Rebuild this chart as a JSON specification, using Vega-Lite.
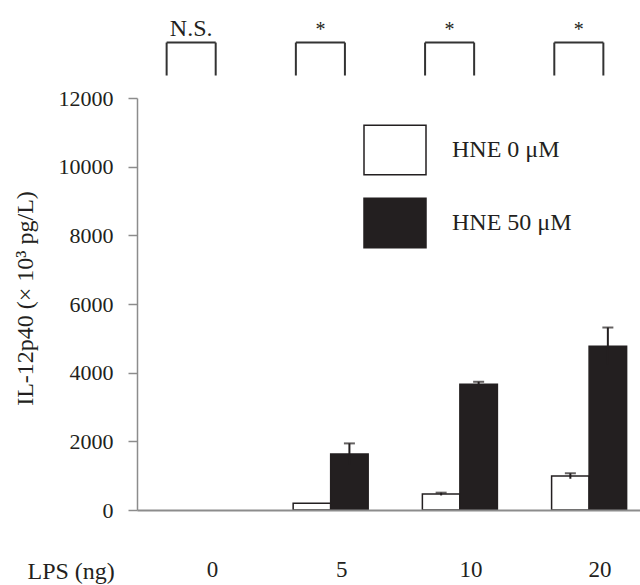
{
  "$schema": "https://vega.github.io/schema/vega-lite/v6.json",
  "width": 503,
  "height": 412,
  "autosize": {"type": "none"},
  "padding": {"left": 137, "top": 98, "right": 0, "bottom": 75},
  "background": "white",
  "config": {"view": {"stroke": null}, "font": "Liberation Serif"},
  "datasets": {
    "bars": [
      {"lps": "0", "group": "HNE 0 μM", "value": 0, "lower": 0, "upper": 0},
      {"lps": "0", "group": "HNE 50 μM", "value": 0, "lower": 0, "upper": 0},
      {"lps": "5", "group": "HNE 0 μM", "value": 200, "lower": 200, "upper": 200},
      {"lps": "5", "group": "HNE 50 μM", "value": 1630, "lower": 1320, "upper": 1940},
      {"lps": "10", "group": "HNE 0 μM", "value": 465, "lower": 425, "upper": 505},
      {"lps": "10", "group": "HNE 50 μM", "value": 3665, "lower": 3595, "upper": 3735},
      {"lps": "20", "group": "HNE 0 μM", "value": 990, "lower": 910, "upper": 1070},
      {"lps": "20", "group": "HNE 50 μM", "value": 4770, "lower": 4225, "upper": 5315}
    ],
    "sig": [
      {"lps": "0", "label": "N.S."},
      {"lps": "5", "label": "*"},
      {"lps": "10", "label": "*"},
      {"lps": "20", "label": "*"}
    ]
  },
  "layer": [
    {
      "data": {"name": "bars"},
      "transform": [{"filter": "datum.value > 0"}],
      "mark": {"type": "bar", "stroke": "#231f20", "strokeWidth": 1.5, "fillOpacity": 1},
      "encoding": {
        "x": {
          "field": "lps", "type": "nominal",
          "scale": {"domain": ["0", "5", "10", "20"], "paddingInner": 0.4195, "paddingOuter": 0.156, "align": 0.668},
          "axis": {
            "title": "LPS (ng)", "domainColor": "#8c8c8c", "domainWidth": 2, "ticks": false,
            "labelAngle": 0, "labelFontSize": 23, "labelColor": "#231f20", "labelPadding": 48, "labelOffset": 11,
            "labelFont": "Liberation Serif",
            "titleFontSize": 24, "titleFontWeight": "normal", "titleColor": "#231f20", "titleFont": "Liberation Serif",
            "titleX": -110, "titleY": 61, "titleAlign": "left", "titleBaseline": "middle", "zindex": 1
          }
        },
        "xOffset": {"field": "group", "type": "nominal", "scale": {"domain": ["HNE 0 μM", "HNE 50 μM"], "paddingInner": 0, "paddingOuter": 0}},
        "y": {
          "field": "value", "type": "quantitative",
          "scale": {"domain": [0, 12000], "nice": false},
          "axis": {
            "title": "IL-12p40 (× 10³ pg/L)", "values": [0, 2000, 4000, 6000, 8000, 10000, 12000], "format": "d",
            "grid": false, "domainColor": "#8c8c8c", "domainWidth": 1.5, "tickColor": "#8c8c8c", "tickSize": 9, "tickWidth": 1.5,
            "labelFontSize": 22, "labelPadding": 15, "labelColor": "#231f20", "labelFont": "Liberation Serif",
            "titleFontSize": 24, "titleFontWeight": "normal", "titleColor": "#231f20", "titleFont": "Liberation Serif",
            "titleX": -112, "titleY": 200, "titleBaseline": "middle", "zindex": 1
          }
        },
        "fill": {
          "field": "group", "type": "nominal",
          "scale": {"domain": ["HNE 0 μM", "HNE 50 μM"], "range": ["#ffffff", "#231f20"]},
          "legend": {
            "title": null, "orient": "none", "legendX": 226, "legendY": 20,
            "symbolType": "M-1,-0.8H1V0.8H-1Z", "symbolSize": 3844,
            "symbolStrokeColor": "#231f20", "symbolStrokeWidth": 1.5,
            "labelFontSize": 24, "labelFont": "Liberation Serif", "labelColor": "#231f20",
            "labelOffset": 25, "rowPadding": 13, "padding": 0, "labelLimit": 300
          }
        }
      }
    },
    {
      "data": {"name": "bars"},
      "transform": [{"filter": "datum.upper > datum.value"}],
      "mark": {"type": "rule", "color": "#231f20", "strokeWidth": 2},
      "encoding": {
        "x": {"field": "lps", "type": "nominal"},
        "xOffset": {"field": "group", "type": "nominal"},
        "y": {"field": "lower", "type": "quantitative"},
        "y2": {"field": "upper"}
      }
    },
    {
      "data": {"name": "bars"},
      "transform": [{"filter": "datum.upper > datum.value"}],
      "mark": {"type": "tick", "color": "#231f20", "size": 11, "thickness": 2, "orient": "horizontal"},
      "encoding": {
        "x": {"field": "lps", "type": "nominal"},
        "xOffset": {"field": "group", "type": "nominal"},
        "y": {"field": "upper", "type": "quantitative"}
      }
    },
    {
      "data": {"name": "sig"},
      "mark": {"type": "rule", "color": "#333333", "strokeWidth": 2},
      "encoding": {
        "x": {"field": "lps", "type": "nominal", "bandPosition": 0.036},
        "y": {"datum": 12655, "type": "quantitative"},
        "y2": {"datum": 13615}
      }
    },
    {
      "data": {"name": "sig"},
      "mark": {"type": "rule", "color": "#333333", "strokeWidth": 2},
      "encoding": {
        "x": {"field": "lps", "type": "nominal", "bandPosition": 0.69},
        "y": {"datum": 12655, "type": "quantitative"},
        "y2": {"datum": 13615}
      }
    },
    {
      "data": {"name": "sig"},
      "mark": {"type": "rule", "color": "#333333", "strokeWidth": 2},
      "encoding": {
        "x": {"field": "lps", "type": "nominal", "bandPosition": 0.036},
        "x2": {"field": "lps", "bandPosition": 0.69},
        "y": {"datum": 13615, "type": "quantitative"}
      }
    },
    {
      "data": {"name": "sig"},
      "mark": {"type": "text", "color": "#231f20", "baseline": "alphabetic", "align": "center", "font": "Liberation Serif"},
      "encoding": {
        "x": {"field": "lps", "type": "nominal", "bandPosition": 0.363},
        "y": {"datum": 13818, "type": "quantitative"},
        "text": {"field": "label"},
        "size": {"condition": {"test": "datum.label === 'N.S.'", "value": 24}, "value": 20}
      }
    }
  ]
}
